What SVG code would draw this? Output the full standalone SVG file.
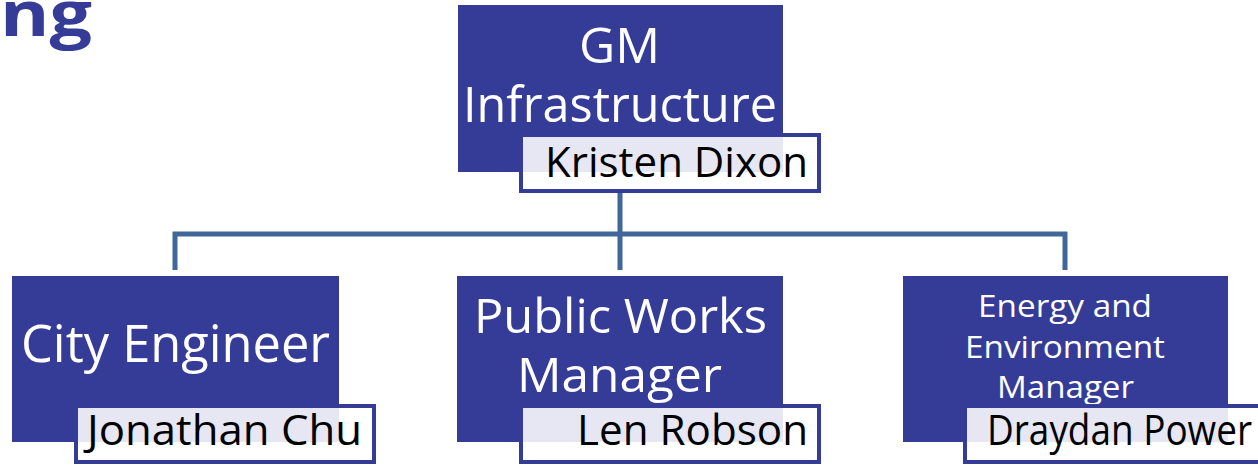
<svg xmlns="http://www.w3.org/2000/svg" width="1258" height="465" viewBox="0 0 1258 465">
<style>
.role{fill:#353C98}
.name{fill:#FFFFFF;fill-opacity:0.88;stroke:#353C98;stroke-width:4}
.t{font-family:"Open Sans","Noto Sans","Liberation Sans",sans-serif;fill:#FFFFFF;text-anchor:start}
.n{font-family:"Open Sans","Noto Sans","Liberation Sans",sans-serif;fill:#000000;font-size:42px}
.conn{fill:none;stroke:#41679A;stroke-width:5}
</style>
<rect width="1258" height="465" fill="#FFFFFF"/>
<text x="0" y="36" font-family="'Open Sans','Liberation Sans',sans-serif" font-weight="bold" font-size="62" fill="#353C98" textLength="92" lengthAdjust="spacingAndGlyphs">ng</text>
<g id="connectors">
<path class="conn" d="M620,193 V234 M175,270 V234 H1065 V270 M620,234 V270"/>
</g>
<g id="node-gm">
<rect class="role" x="458" y="5" width="325" height="167"/>
<text class="t" x="579" y="63" font-size="49" textLength="81" lengthAdjust="spacingAndGlyphs">GM</text>
<text class="t" x="463" y="122" font-size="50" textLength="314" lengthAdjust="spacingAndGlyphs">Infrastructure</text>
<rect class="name" x="521" y="135" width="298" height="56"/>
<text class="n" x="545" y="177" textLength="263" lengthAdjust="spacingAndGlyphs">Kristen Dixon</text>
</g>
<g id="node-city">
<rect class="role" x="12" y="276" width="327" height="166"/>
<text class="t" x="21" y="362" font-size="51" textLength="309" lengthAdjust="spacingAndGlyphs">City Engineer</text>
<rect class="name" x="76" y="406" width="298" height="56"/>
<text class="n" x="87" y="445" textLength="275" lengthAdjust="spacingAndGlyphs">Jonathan Chu</text>
</g>
<g id="node-public">
<rect class="role" x="457" y="276" width="326" height="166"/>
<text class="t" x="474" y="333" font-size="48" textLength="293" lengthAdjust="spacingAndGlyphs">Public Works</text>
<text class="t" x="517" y="392" font-size="48" textLength="205" lengthAdjust="spacingAndGlyphs">Manager</text>
<rect class="name" x="521" y="406" width="298" height="56"/>
<text class="n" x="577" y="445" textLength="231" lengthAdjust="spacingAndGlyphs">Len Robson</text>
</g>
<g id="node-energy">
<rect class="role" x="903" y="276" width="325" height="166"/>
<text class="t" x="978" y="317" font-size="31" textLength="174" lengthAdjust="spacingAndGlyphs">Energy and</text>
<text class="t" x="965" y="358" font-size="31" textLength="200" lengthAdjust="spacingAndGlyphs">Environment</text>
<text class="t" x="997" y="398" font-size="31" textLength="137" lengthAdjust="spacingAndGlyphs">Manager</text>
<rect class="name" x="965" y="406" width="300" height="56"/>
<text class="n" x="987" y="445" textLength="265" lengthAdjust="spacingAndGlyphs">Draydan Power</text>
</g>
</svg>
